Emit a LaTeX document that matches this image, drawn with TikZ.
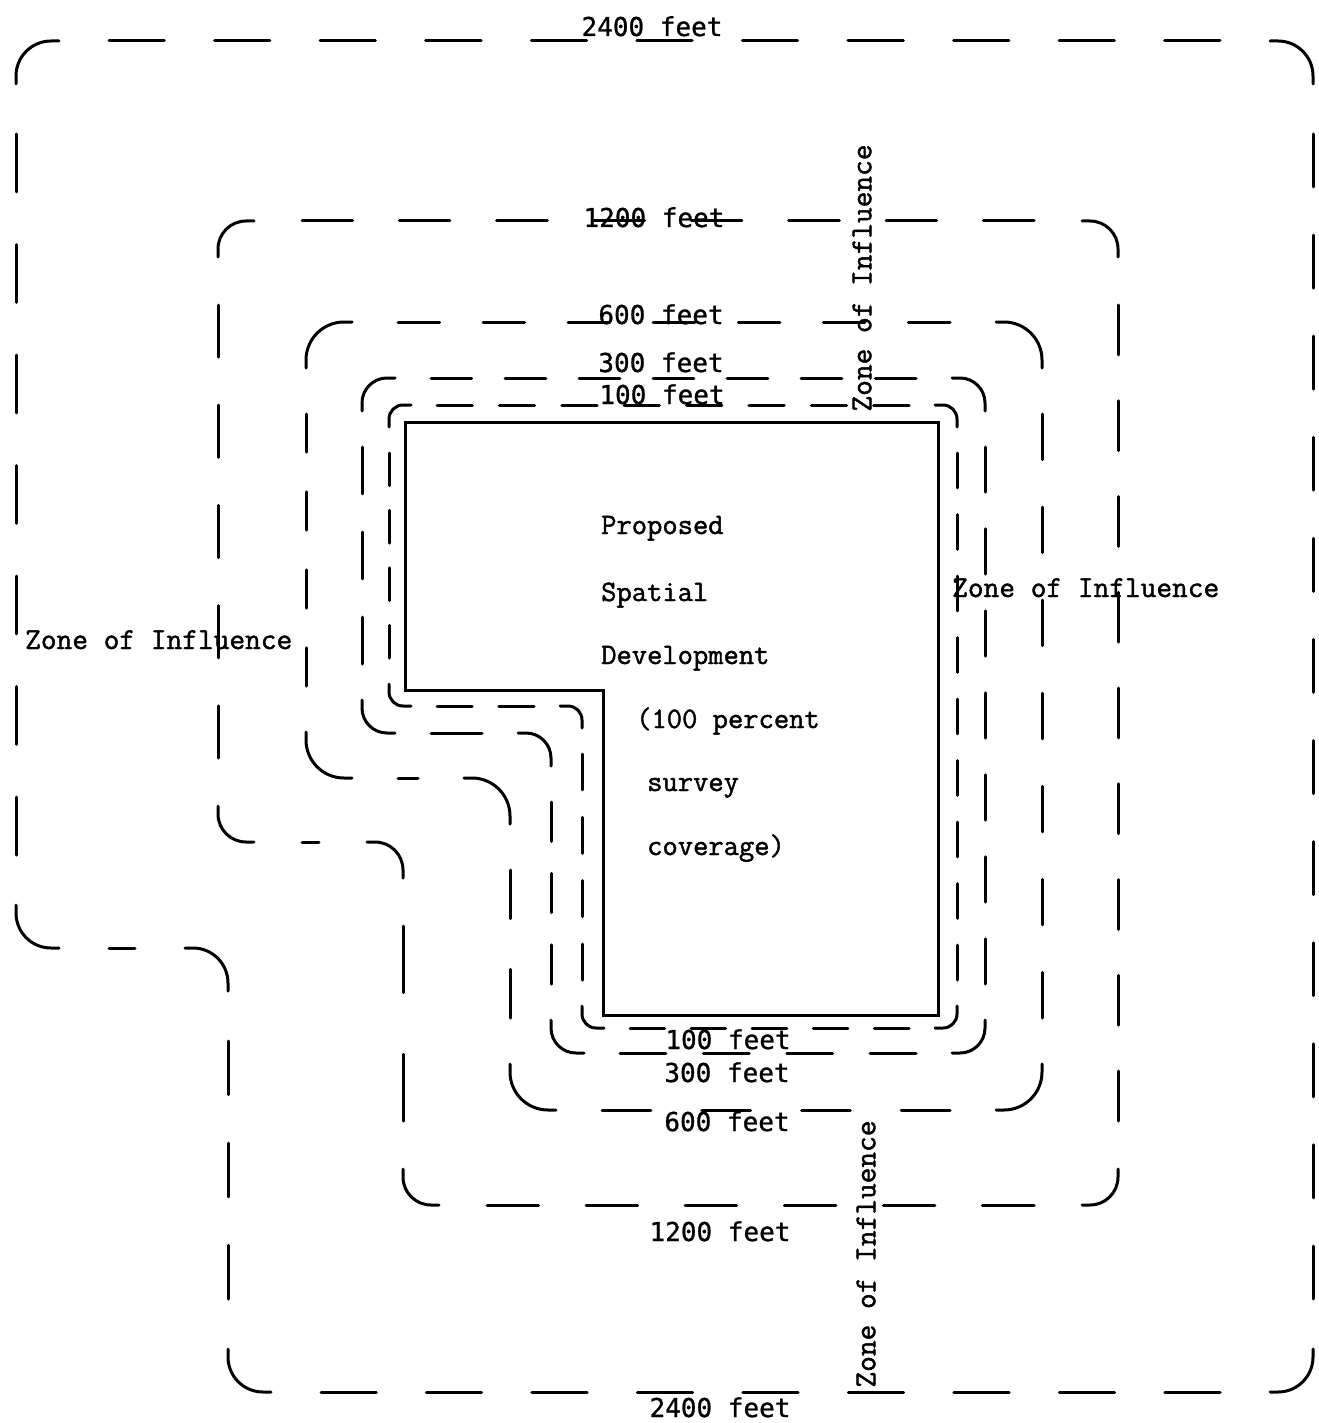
\documentclass[tikz,border=0pt]{standalone}
\usepackage{fontspec}
\newfontfamily\monofam[FakeBold=1.5]{Latin Modern Mono}
\newfontfamily\gothfam[FakeBold=1]{DejaVu Sans Mono}
% dashed side fitted so that it starts and ends with a full dash
\newcommand\fitside[6]{%
 \pgfmathsetmacro\slen{veclen((#3)-(#1),(#4)-(#2))}%
 \pgfmathsetmacro\nd{max(1,round((\slen+#6)/(#5+#6)))}%
 \pgfmathsetmacro\scl{\slen/(\nd*#5+(\nd-1)*#6)}%
 \pgfmathsetmacro\don{#5*\scl}%
 \pgfmathsetmacro\doff{max(0.5,#6*\scl)}%
 \begin{scope}
  \pgfsetdash{{\don pt}{\doff pt}}{0pt}%
  \draw (#1,#2) -- (#3,#4);
 \end{scope}}
% ring: #1 L #2 T #3 R #4 B #5 V #6 H #7 radius #8 dash on #9 gap
\newcommand\ringdraw[9]{%
 \begin{scope}[line width=3pt, line cap=round]
  \draw[rounded corners=#7pt] (#1,{#2+#7+8}) -- (#1,#2) -- ({#1+#7+8},#2);
  \draw[rounded corners=#7pt] ({#3-#7-8},#2) -- (#3,#2) -- (#3,{#2+#7+8});
  \draw[rounded corners=#7pt] (#3,{#4-#7-8}) -- (#3,#4) -- ({#3-#7-8},#4);
  \draw[rounded corners=#7pt] ({#5+#7+8},#4) -- (#5,#4) -- (#5,{#4-#7-8});
  \draw[rounded corners=#7pt] (#5,{#6+#7+8}) -- (#5,#6) -- ({#5-#7-8},#6);
  \draw[rounded corners=#7pt] ({#1+#7+8},#6) -- (#1,#6) -- (#1,{#6-#7-8});
  \fitside{#1+#7+8+#9}{#2}{#3-#7-8-#9}{#2}{#8}{#9}
  \fitside{#3}{#2+#7+8+#9}{#3}{#4-#7-8-#9}{#8}{#9}
  \fitside{#3-#7-8-#9}{#4}{#5+#7+8+#9}{#4}{#8}{#9}
  \fitside{#5}{#4-#7-8-#9}{#5}{#6+#7+8+#9}{#8}{#9}
  \fitside{#5-#7-8-#9}{#6}{#1+#7+8+#9}{#6}{#8}{#9}
  \fitside{#1}{#6-#7-8-#9}{#1}{#2+#7+8+#9}{#8}{#9}
 \end{scope}}
\tikzset{
 feetlbl/.style={font=\gothfam\fontsize{26}{30}\selectfont, inner sep=0pt, anchor=base},
 zonelbl/.style={font=\monofam\fontsize{30.5}{34}\selectfont, inner sep=0pt},
 blocklbl/.style={font=\monofam\fontsize{29.7}{34}\selectfont, inner sep=0pt, anchor=base west}
}
\begin{document}
\begin{tikzpicture}[x=1pt,y=-1pt]
\useasboundingbox (0,0) rectangle (1318,1423);
% development footprint
\draw[line width=3pt, line join=miter] (405,422) -- (938,422) -- (938,1015) -- (603,1015) -- (603,690) -- (405,690) -- cycle;
% zones: L T R B V H radius dash gap
\ringdraw{16}{41}{1313}{1392}{228}{948}{35}{55}{50}
\ringdraw{218}{221}{1118}{1205}{403}{842}{28}{52}{48}
\ringdraw{306}{322}{1042}{1110}{510}{778}{38}{44}{46}
\ringdraw{362}{378}{985}{1053}{551}{733}{25}{44}{36}
\ringdraw{389}{405}{957}{1028}{582}{706}{14}{34}{26}
% distance labels
\node[feetlbl] (t2400) at (652,36) {2400 feet};
\node[feetlbl] (t1200) at (654,227) {1200 feet};
\node[feetlbl] (t600) at (661,324) {600 feet};
\node[feetlbl] (t300) at (661,372) {300 feet};
\node[feetlbl] (t100) at (662,404) {100 feet};
\node[feetlbl] (b100) at (728,1049) {100 feet};
\node[feetlbl] (b300) at (727,1082) {300 feet};
\node[feetlbl] (b600) at (727,1131) {600 feet};
\node[feetlbl] (b1200) at (720,1241) {1200 feet};
\node[feetlbl] (b2400) at (720,1417) {2400 feet};
% zone labels
\node[zonelbl, anchor=base west] (zl) at (25,649) {Zone of Influence};
\node[zonelbl, anchor=base west] (zr) at (952,597) {Zone of Influence};
\node[zonelbl, rotate=90] (zt) at (862,278) {Zone of Influence};
\node[zonelbl, rotate=90] (zb) at (866,1254) {Zone of Influence};
% block text
\node[blocklbl] (p1) at (601,534) {Proposed};
\node[blocklbl] (p2) at (601,601) {Spatial};
\node[blocklbl] (p3) at (601,664) {Development};
\node[blocklbl] (p4) at (636,728) {(100 percent};
\node[blocklbl] (p5) at (647,791) {survey};
\node[blocklbl] (p6) at (647,855) {coverage)};
\end{tikzpicture}
\end{document}
